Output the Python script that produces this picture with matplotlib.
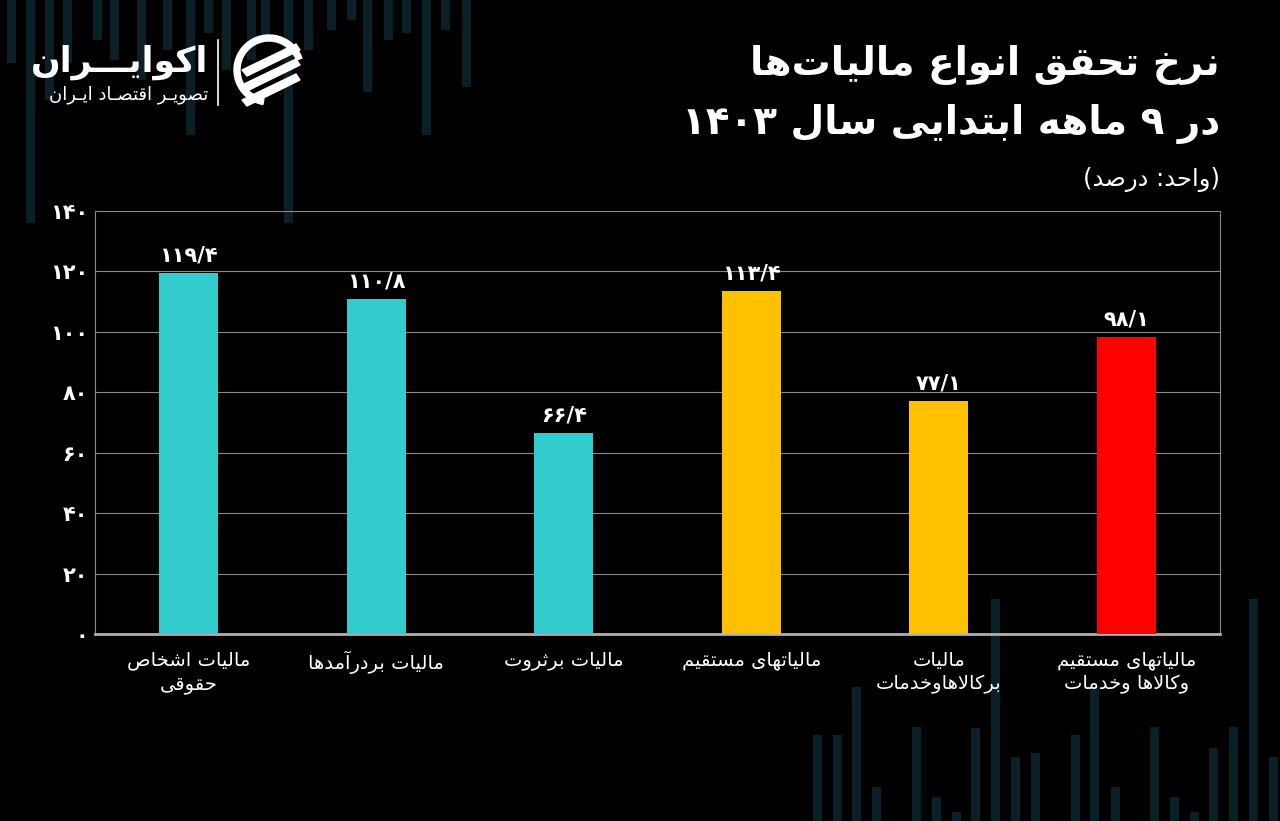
import re
import matplotlib
matplotlib.use("Agg")
import matplotlib.pyplot as plt
from matplotlib.patches import Wedge, Polygon

# chart data
categories = [
    "مالیات اشخاص\nحقوقی",
    "مالیات بردرآمدها",
    "مالیات برثروت",
    "مالیاتهای مستقیم",
    "مالیات\nبرکالاهاوخدمات",
    "مالیاتهای مستقیم\nوکالاها وخدمات",
]
values = [119.4, 110.8, 66.4, 113.4, 77.1, 98.1]
bar_colors = ["#33CCCC", "#33CCCC", "#33CCCC", "#FFC000", "#FFC000", "#FF0000"]
y_ticks = [0, 20, 40, 60, 80, 100, 120, 140]

title_1 = "نرخ تحقق انواع مالیات\u200cها"
title_2 = "در ۹ ماهه ابتدایی سال ۱۴۰۳"
unit_text = "(واحد: درصد)"
brand = "اکوایـــران"
brand_sub = "تصویـر اقتصـاد ایـران"

# decorative background stripes (pixel space): x centre, length
deco_top_x = [11, 30, 49, 67, 97, 114, 141, 167, 190, 208, 226, 251, 265, 288, 308, 331, 351, 367, 388, 406, 426, 445, 466]
deco_top_len = [63, 223, 100, 63, 40, 60, 80, 50, 135, 33, 70, 60, 40, 223, 50, 30, 20, 92, 40, 33, 135, 30, 87]
deco_bot_x = [817, 837, 856, 876, 916, 936, 956, 975, 995, 1015, 1035, 1075, 1094, 1115, 1154, 1174, 1194, 1213, 1233, 1253, 1273]
deco_bot_top = [735, 735, 687, 787, 727, 797, 812, 728, 599, 757, 753, 735, 687, 787, 727, 797, 812, 748, 727, 599, 757]

# --- minimal Persian shaping (presentation forms + visual order) ---
FORMS = {
    "ا": ("\uFE8D", "\uFE8E", None, None),
    "آ": ("\uFE81", "\uFE82", None, None),
    "ب": ("\uFE8F", "\uFE90", "\uFE91", "\uFE92"),
    "ت": ("\uFE95", "\uFE96", "\uFE97", "\uFE98"),
    "ث": ("\uFE99", "\uFE9A", "\uFE9B", "\uFE9C"),
    "ح": ("\uFEA1", "\uFEA2", "\uFEA3", "\uFEA4"),
    "خ": ("\uFEA5", "\uFEA6", "\uFEA7", "\uFEA8"),
    "د": ("\uFEA9", "\uFEAA", None, None),
    "ر": ("\uFEAD", "\uFEAE", None, None),
    "س": ("\uFEB1", "\uFEB2", "\uFEB3", "\uFEB4"),
    "ش": ("\uFEB5", "\uFEB6", "\uFEB7", "\uFEB8"),
    "ص": ("\uFEB9", "\uFEBA", "\uFEBB", "\uFEBC"),
    "ع": ("\uFEC9", "\uFECA", "\uFECB", "\uFECC"),
    "ق": ("\uFED5", "\uFED6", "\uFED7", "\uFED8"),
    "ک": ("\uFB8E", "\uFB8F", "\uFB90", "\uFB91"),
    "ل": ("\uFEDD", "\uFEDE", "\uFEDF", "\uFEE0"),
    "م": ("\uFEE1", "\uFEE2", "\uFEE3", "\uFEE4"),
    "ن": ("\uFEE5", "\uFEE6", "\uFEE7", "\uFEE8"),
    "و": ("\uFEED", "\uFEEE", None, None),
    "ه": ("\uFEE9", "\uFEEA", "\uFEEB", "\uFEEC"),
    "ی": ("\uFBFC", "\uFBFD", "\uFBFE", "\uFBFF"),
}
LAM_ALEF = {"ا": ("\uFEFB", "\uFEFC"), "آ": ("\uFEF5", "\uFEF6")}


def joins_next(c):
    return c == "ـ" or (c in FORMS and FORMS[c][2] is not None)


def joins_prev(c):
    return c == "ـ" or c in FORMS


def shape_line(s):
    out = []
    i = 0
    while i < len(s):
        c = s[i]
        jp = i > 0 and joins_next(s[i - 1]) and joins_prev(c)
        if c == "ل" and i + 1 < len(s) and s[i + 1] in LAM_ALEF:
            out.append(LAM_ALEF[s[i + 1]][1 if jp else 0])
            i += 2
            continue
        if c in FORMS:
            nxt = s[i + 1] if i + 1 < len(s) else ""
            jn = joins_next(c) and joins_prev(nxt)
            iso, fin, ini, med = FORMS[c]
            out.append(med if jp and jn else fin if jp else ini if jn else iso)
        elif c != "\u200c":
            out.append(c)
        i += 1
    vis = "".join(out)[::-1].translate(str.maketrans("()", ")("))
    return re.sub(r"[0-9۰-۹/.]+", lambda m: m.group(0)[::-1], vis)


def fa(s):
    return "\n".join(shape_line(line) for line in s.split("\n"))


def fa_num(v):
    return str(v).replace(".", "/").translate(str.maketrans("0123456789", "۰۱۲۳۴۵۶۷۸۹"))


plt.rcParams["font.family"] = ["DejaVu Sans"]

fig = plt.figure(figsize=(12.8, 8.21), dpi=100, facecolor="black")

# background layer in pixel coordinates
bg = fig.add_axes([0, 0, 1, 1], zorder=0)
bg.set_xlim(0, 1280)
bg.set_ylim(821, 0)
bg.axis("off")
bg.bar(deco_top_x, deco_top_len, width=9, bottom=0, color="#0b1f27", align="center")
bg.bar(deco_bot_x, [821 - t for t in deco_bot_top], width=9, bottom=deco_bot_top,
       color="#0b1f27", align="center")

# logo
bg.add_patch(Wedge((269, 70), 35, 100, 340, width=6, color="white"))
for k in range(3):
    y0 = 60 + k * 15
    bg.add_patch(Polygon([(242, y0 + 10), (296, y0 - 16), (300, y0 - 10), (247, y0 + 16)],
                         closed=True, color="white"))
bg.plot([218, 218], [40, 105], color="white", lw=1.2)
bg.text(208, 62, fa(brand), color="white", fontsize=25, fontweight="bold",
        ha="right", va="center")
bg.text(208, 95, fa(brand_sub), color="white", fontsize=13, ha="right", va="center")

# titles
bg.text(1220, 65, fa(title_1), color="white", fontsize=28, fontweight="bold",
        ha="right", va="center")
bg.text(1220, 124, fa(title_2), color="white", fontsize=28, fontweight="bold",
        ha="right", va="center")
bg.text(1220, 180, fa(unit_text), color="white", fontsize=17.5, ha="right", va="center")

# main chart
ax = fig.add_axes([95 / 1280, 1 - 634 / 821, 1125 / 1280, 423.5 / 821], zorder=1)
ax.set_facecolor("none")
x = list(range(len(values)))
ax.bar(x, values, width=0.315, color=bar_colors, zorder=3)
for xi, v in zip(x, values):
    ax.text(xi, v + 2.5, fa_num(v), color="white", fontsize=15, fontweight="bold",
            ha="center", va="bottom")

ax.set_xlim(-0.5, 5.5)
ax.set_ylim(0, 140)
ax.set_yticks(y_ticks)
ax.set_yticklabels([fa_num(t) for t in y_ticks], color="white", fontsize=15, fontweight="bold")
ax.set_xticks(x)
ax.set_xticklabels([fa(c) for c in categories], color="white", fontsize=14,
                   linespacing=1.3)
ax.tick_params(axis="both", length=0)
ax.tick_params(axis="y", pad=5)
ax.tick_params(axis="x", pad=12)
ax.grid(axis="y", color="#8a8a8a", linewidth=0.8, zorder=0)
for side in ["left", "right"]:
    ax.spines[side].set_color("#8a8a8a")
    ax.spines[side].set_linewidth(0.8)
ax.spines["top"].set_visible(False)
ax.spines["bottom"].set_color("#b0b0b0")
ax.spines["bottom"].set_linewidth(2)

fig.savefig("out.png", dpi=100, facecolor="black")
